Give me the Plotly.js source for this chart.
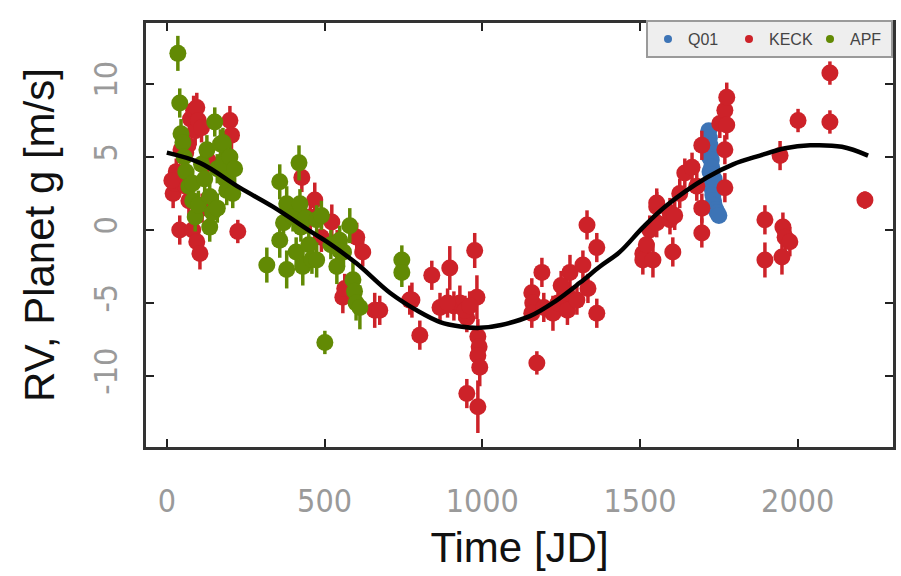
<!DOCTYPE html>
<html><head><meta charset="utf-8">
<script src="https://cdn.plot.ly/plotly-3.0.1.min.js"></script>
<style>html,body{margin:0;padding:0;background:#fff}#chart{width:901px;height:576px}</style>
</head><body><div id="chart"></div>
<script>
// KECK
const keckT = [20,25,30,41,51,60,67,75,82,85,90,95,100,95,105,110,112,70,200,205,225,130,60,16,45,
  428,469,523,455,602,621,558,564,659,675,490,540,
  770,777,802,840,866,897,910,929,951,951,976,983,986,990,986,992,986,890,945,960,
  1157,1160,1157,1173,1189,1195,1224,1240,1268,1270,1278,1300,1319,1332,1363,1363,1335,1250,
  1509,1509,1531,1541,1553,1553,1553,1595,1595,1604,1626,1642,1665,1696,1696,1696,1753,1769,1775,1775,1769,1769,1610,1520,1680,
  1896,1896,1944,1950,1953,1960,1975,2001,2102,2102,2213];
const keckY = [2.5,3.2,4.0,0.0,3.9,5.3,5.8,7.6,0.0,8.2,6.8,8.4,7.5,-0.8,-1.6,7.0,1.5,2.0,7.5,6.5,-0.1,4.8,3.0,3.4,5.5,
  3.6,2.05,0.55,0.9,-0.5,-1.5,-4.6,-4.0,-5.5,-5.5,-0.5,-1.0,
  -4.8,-4.8,-7.2,-3.1,-5.3,-2.6,-5.2,-5.0,-6.0,-11.2,-1.4,-4.6,-7.3,-8.0,-8.6,-9.4,-12.1,-5.0,-5.5,-5.2,
  -4.3,-5.0,-5.7,-9.1,-2.9,-5.3,-5.7,-5.0,-4.3,-5.5,-2.9,-4.8,-2.4,0.35,-1.2,-5.7,-4.0,-3.8,
  -1.6,-2.05,0.0,-2.05,1.6,0.5,1.85,0.7,1.2,-1.5,2.5,3.9,4.3,5.8,1.5,-0.2,7.3,8.2,9.1,7.2,5.5,2.9,1.0,-1.0,3.0,
  0.7,-2.05,5.1,-1.85,0.2,-0.5,-0.8,7.5,10.75,7.4,2.05];
const keckE = [1.0,1.0,0.9,1.0,1.0,0.9,1.0,1.0,1.0,1.0,1.0,1.0,1.0,1.0,1.1,1.0,1.0,1.0,1.0,1.0,0.8,1.0,1.0,1.0,1.0,
  1.0,1.2,1.2,1.0,1.0,1.0,1.1,1.0,1.2,1.0,1.0,1.0,
  1.0,1.2,1.0,1.0,1.0,1.5,1.0,1.2,1.0,1.0,1.2,1.5,1.2,1.2,1.2,1.3,1.8,1.0,1.0,1.0,
  1.0,1.0,1.0,0.8,1.0,1.0,1.2,1.0,1.3,1.0,1.2,1.0,1.0,1.0,1.0,1.0,1.0,1.0,
  1.0,1.0,1.0,1.2,1.0,1.0,1.0,1.0,1.0,1.0,1.0,1.0,1.0,1.0,1.0,1.0,1.0,1.0,1.0,1.0,1.0,1.0,1.0,1.0,1.0,
  1.0,1.2,1.0,1.2,1.0,1.0,1.0,0.8,0.8,0.8,0.6];
// APF
const apfT = [35,41,45,51,55,60,70,82,82,90,100,110,127,136,136,145,152,160,170,178,178,185,190,200,209,215,120,160,
  317,358,358,370,380,380,400,410,419,422,425,431,440,450,460,475,475,490,501,520,539,548,548,580,590,595,600,612,560,745,745];
const apfY = [12.1,8.7,6.6,6.0,5.0,4.0,3.0,3.2,2.0,0.9,1.7,4.5,5.5,2.3,0.2,1.2,7.4,4.2,5.9,6.0,4.5,3.5,2.7,5.0,2.5,4.2,3.5,1.5,
  -2.4,3.3,-0.7,0.5,1.8,-2.7,0.9,-1.5,4.6,1.8,0.2,-2.5,0.8,-1.0,-2.0,0.7,-2.05,1.0,-7.7,-1.0,-2.5,-0.7,-1.4,0.3,-3.4,-4.2,-5.0,-5.3,-1.5,-2.05,-2.9];
const apfE = [1.2,1.0,1.0,1.0,1.0,1.0,1.0,1.0,1.0,1.0,1.0,1.0,1.0,1.0,1.0,1.0,1.0,1.0,1.0,1.0,1.0,1.0,1.0,1.0,1.0,1.0,1.0,1.0,
  1.2,1.2,1.2,1.0,1.2,1.3,1.0,1.0,1.2,1.0,1.0,1.3,1.0,1.0,1.0,1.0,1.2,1.0,0.8,1.0,1.2,1.0,1.0,1.2,1.2,1.0,1.2,1.5,1.0,1.0,1.0];
// Q01
const q01T = [1716,1718,1720,1720,1722,1722,1724,1725,1726,1727,1728,1729,1730,1731,1733,1735,1735,1740,1745,1750];
const q01Y = [6.0,6.8,6.3,5.0,5.8,4.0,5.3,3.0,4.8,4.3,3.8,3.3,2.8,2.4,2.0,1.7,3.5,1.4,1.2,1.0];
const q01E = [0.3,0.3,0.3,0.3,0.3,0.3,0.3,0.3,0.3,0.3,0.3,0.3,0.3,0.3,0.3,0.3,0.3,0.3,0.3,0.3];
// model curve
const curveT = [0,105,231,336,463,507,602,707,800,866,930,992,1060,1151,1230,1310,1373,1436,1510,1585,1712,1795,1880,1960,2039,2140,2223];
const curveY = [5.3,4.6,2.9,1.6,-0.2,-0.8,-2.3,-4.3,-5.6,-6.3,-6.6,-6.7,-6.5,-5.9,-4.9,-3.6,-2.5,-1.5,0.2,1.7,3.6,4.5,5.1,5.6,5.8,5.7,5.1];
const xTicks = [0,500,1000,1500,2000];
const xTickLabels = ['0','500','1000','1500','2000'];
const yTicks = [-10,-5,0,5,10];
const yTickLabels = ['-10','-5','0','5','10'];
const seriesNames = ['Q01','KECK','APF'];

const cBlue = '#3d74b6', cRed = '#cd2229', cGreen = '#628a04';
function pts(x,y,e,c){
  return {type:'scatter',mode:'markers',x:x,y:y,showlegend:false,
    marker:{size:17,color:c,line:{width:0}},
    error_y:{type:'data',array:e,visible:true,color:c,thickness:3.5,width:0}};
}
const traces = [
  pts(q01T,q01Y,q01E,cBlue),
  pts(keckT,keckY,keckE,cRed),
  pts(apfT,apfY,apfE,cGreen),
  {type:'scatter',mode:'lines',x:curveT,y:curveY,showlegend:false,line:{color:'#000',width:4.5,shape:'spline'}},
  {type:'scatter',mode:'markers',x:[null],y:[null],name:seriesNames[0],marker:{size:8,color:cBlue}},
  {type:'scatter',mode:'markers',x:[null],y:[null],name:seriesNames[1],marker:{size:8,color:cRed}},
  {type:'scatter',mode:'markers',x:[null],y:[null],name:seriesNames[2],marker:{size:8,color:cGreen}}
];
const tickFont = {family:'Liberation Sans Narrow, DejaVu Sans Condensed, Arial Narrow, sans-serif',size:32,color:'#9a9a9a'};
const layout = {
  width:901,height:576,
  margin:{l:146,r:8,t:23,b:129},
  paper_bgcolor:'#fff',plot_bgcolor:'#fff',
  showlegend:true,
  legend:{orientation:'h',x:1,xanchor:'right',y:1.007,yanchor:'top',bgcolor:'#eeeeee',bordercolor:'#9a9a9a',borderwidth:2,
    font:{family:'Liberation Sans Narrow, Arial, sans-serif',size:16,color:'#444'},entrywidth:36,itemwidth:30},
  xaxis:{range:[-66,2302],tickvals:xTicks,ticktext:xTickLabels,ticks:'inside',ticklen:8,tickwidth:2,tickcolor:'#222',
    showline:true,linecolor:'#333',linewidth:3,mirror:'ticks',showgrid:false,zeroline:false,
    tickfont:tickFont,ticklabelstandoff:24,
    title:{text:'Time [JD]',font:{family:'Liberation Sans, Arial, sans-serif',size:42,color:'#111'},standoff:14}},
  yaxis:{range:[-14.86,14.18],tickvals:yTicks,ticktext:yTickLabels,ticks:'inside',ticklen:8,tickwidth:2,tickcolor:'#222',tickangle:-90,
    showline:true,linecolor:'#333',linewidth:3,mirror:'ticks',showgrid:false,zeroline:false,
    tickfont:tickFont,ticklabelstandoff:13,
    title:{text:'RV, Planet g [m/s]',font:{family:'Liberation Sans, Arial, sans-serif',size:42,color:'#111'},standoff:20}}
};
Plotly.newPlot('chart',traces,layout,{displayModeBar:false,staticPlot:true});
</script></body></html>
